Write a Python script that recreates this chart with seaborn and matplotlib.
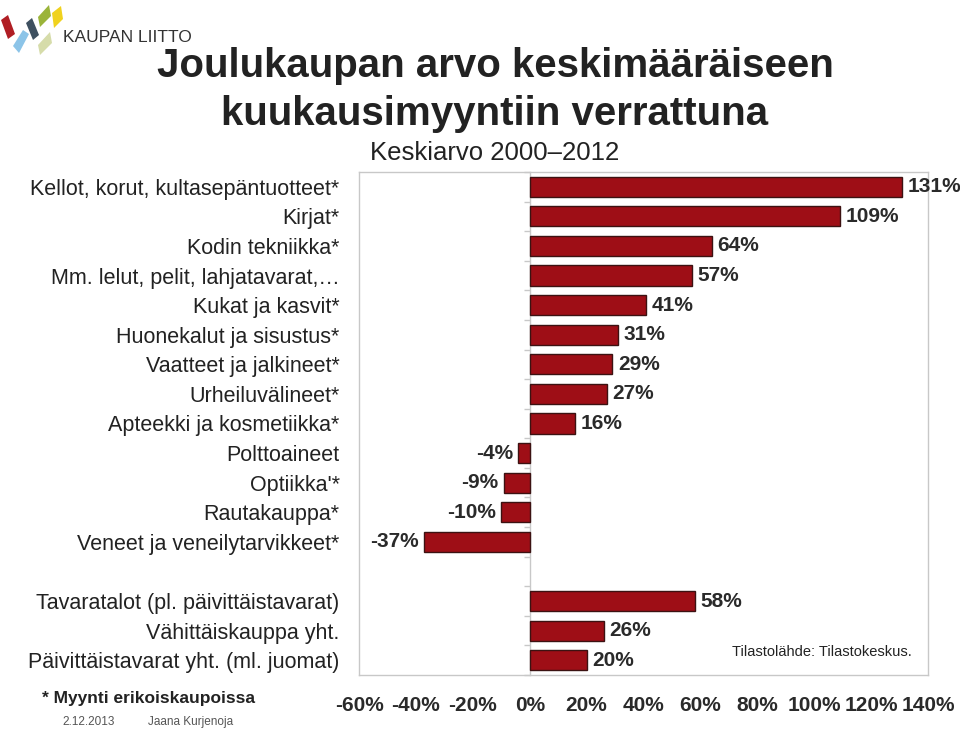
import numpy as np
import pandas as pd
import matplotlib.pyplot as plt
from matplotlib.patches import Polygon
import seaborn as sns

# data
upper_labels = ['Kellot, korut, kultasepäntuotteet*', 'Kirjat*', 'Kodin tekniikka*',
                'Mm. lelut, pelit, lahjatavarat,…', 'Kukat ja kasvit*', 'Huonekalut ja sisustus*',
                'Vaatteet ja jalkineet*', 'Urheiluvälineet*', 'Apteekki ja kosmetiikka*',
                'Polttoaineet', "Optiikka'*", 'Rautakauppa*', 'Veneet ja veneilytarvikkeet*']
upper_values = [131, 109, 64, 57, 41, 31, 29, 27, 16, -4, -9, -10, -37]
lower_labels = ['Tavaratalot (pl. päivittäistavarat)', 'Vähittäiskauppa yht.',
                'Päivittäistavarat yht. (ml. juomat)']
lower_values = [58, 26, 20]
x_ticks = [-60, -40, -20, 0, 20, 40, 60, 80, 100, 120, 140]

sns.set_theme(style='white')
plt.rcParams['font.family'] = ['Liberation Sans', 'DejaVu Sans']
txt = '#222222'
grey = '#c8c8c8'

labels = upper_labels + [''] + lower_labels
values = upper_values + [np.nan] + lower_values
df = pd.DataFrame({'kategoria': labels, 'arvo': values, 'paikka': range(len(labels))})
df = df.dropna()

fig = plt.figure(figsize=(9.6, 7.33), dpi=100)
ax = fig.add_axes([359/960, 1-675/733, (928-359)/960, (675-172)/733])

sns.barplot(data=df, x='arvo', y='paikka', orient='h', native_scale=True, width=0.68,
            color='#9e0e16', edgecolor='#3c1212', linewidth=1, saturation=1, ax=ax)
ax.bar_label(ax.containers[0], fmt='{:.0f}%', padding=4, fontsize=15,
             fontweight='bold', color='#2a2a2a')

ax.set_xlim(-60, 140)
ax.set_ylim(len(labels) - 0.5, -0.5)
ax.set_xticks(x_ticks, [f'{t}%' for t in x_ticks])
ax.set_yticks(df['paikka'], df['kategoria'])
ax.set_xlabel('')
ax.set_ylabel('')
ax.tick_params(axis='y', length=0, pad=14, labelsize=15.5, labelcolor=txt)
ax.tick_params(axis='x', length=5, width=1, color=grey, direction='out', pad=10,
               labelsize=15, labelcolor='#2a2a2a')
for lab in ax.get_xticklabels():
    lab.set_fontweight('bold')
for s in ax.spines.values():
    s.set_color(grey)
    s.set_linewidth(1)
    s.set_visible(True)

# vertical axis at zero with small ticks between categories
zero_at = (0 - x_ticks[0]) / (x_ticks[-1] - x_ticks[0])
sec = ax.secondary_yaxis(zero_at)
sec.set_yticks(np.arange(-0.5, len(labels), 1.0))
sec.set_yticklabels([])
sec.tick_params(length=4, width=1, color=grey, direction='out')
sec.spines['left'].set_color(grey)
sec.spines['left'].set_linewidth(1)

# titles
fig.text(495/960, 1-66/733, 'Joulukaupan arvo keskimääräiseen', ha='center', va='center',
         fontsize=29, fontweight='bold', color=txt)
fig.text(495/960, 1-114/733, 'kuukausimyyntiin verrattuna', ha='center', va='center',
         fontsize=29, fontweight='bold', color=txt)
fig.text(495/960, 1-153/733, 'Keskiarvo 2000–2012', ha='center', va='center',
         fontsize=18.5, color=txt)

fig.text(732/960, 1-652/733, 'Tilastolähde: Tilastokeskus.', ha='left', va='center',
         fontsize=10.5, color=txt)
fig.text(42/960, 1-698/733, '* Myynti erikoiskaupoissa', ha='left', va='center',
         fontsize=12.5, fontweight='bold', color=txt)
fig.text(62/960, 1-722/733, '2.12.2013', ha='left', va='center', fontsize=8.5,
         color='#555555')
fig.text(148/960, 1-722/733, 'Jaana Kurjenoja', ha='left', va='center', fontsize=8.5,
         color='#555555')

# logo
def px(pts):
    return [(x/960, 1-y/733) for x, y in pts]

logo = [
    ([(1, 20), (8, 15), (15, 34), (8, 39)], '#b01e24'),
    ([(26, 23), (32, 18), (39, 35), (33, 40)], '#3e5060'),
    ([(23, 30), (29, 34), (19, 53), (13, 46)], '#8cc4e8'),
    ([(38, 17), (49, 5), (51, 16), (40, 27)], '#9bb43a'),
    ([(52, 13), (61, 6), (63, 19), (54, 28)], '#f0d21e'),
    ([(38, 45), (50, 32), (52, 43), (40, 55)], '#d6dcaa'),
]
for pts, col in logo:
    fig.add_artist(Polygon(px(pts), closed=True, transform=fig.transFigure,
                           facecolor=col, edgecolor='none'))
fig.text(63/960, 1-37/733, 'KAUPAN LIITTO', ha='left', va='center', fontsize=12.5,
         color='#333333')

fig.savefig('out.png', dpi=100)
